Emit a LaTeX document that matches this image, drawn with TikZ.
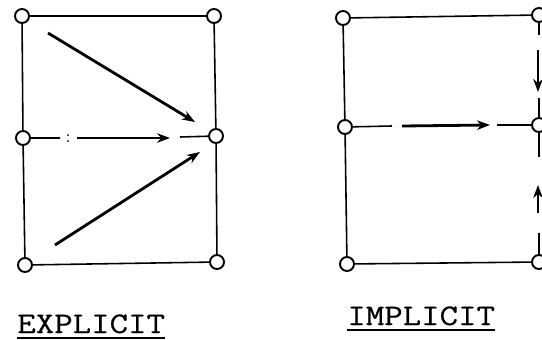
\documentclass[tikz,border=0pt]{standalone}
\usepackage{fontspec}
\newfontfamily\capfont[FakeStretch=1.2, FakeBold=0.6]{Latin Modern Mono}
\usetikzlibrary{arrows.meta, positioning}
\tikzset{
    vertex/.style={
        circle, draw=black, fill=white, line width=1.1pt,
        minimum size=0.28cm, inner sep=0pt
    },
    gridline/.style={
        line width=0.9pt, draw=black
    },
    flow/.style={
        -{Stealth[length=0.26cm, width=0.19cm]}, line width=1.6pt, draw=black
    },
    caption/.style={
        font=\fontsize{17}{20}\selectfont\capfont, inner xsep=0pt, inner ysep=0.09cm, anchor=base west
    },
    uline/.style={
        line width=1.3pt, draw=black
    }
}

\begin{document}
\begin{tikzpicture}[x=0.02cm, y=-0.02cm]
      \useasboundingbox (0,0) rectangle (542,339);

      \node[vertex] (ltl) at (22,16) {};
      \node[vertex] (ltr) at (214,16) {};
      \node[vertex] (lml) at (23,138) {};
      \node[vertex] (lmr) at (216,136) {};
      \node[vertex] (lbl) at (25,265) {};
      \node[vertex] (lbr) at (217,262) {};

      \node[vertex] (rtl) at (343,18) {};
      \node[vertex] (rtr) at (539,15) {};
      \node[vertex] (rml) at (345,127) {};
      \node[vertex] (rmr) at (539,125) {};
      \node[vertex] (rbl) at (347,264) {};
      \node[vertex] (rbr) at (539,262) {};

      \coordinate (ea1) at (48,33);   \coordinate (eb1) at (195,122);
      \coordinate (ea2) at (77,138);  \coordinate (eb2) at (170,138);
      \coordinate (ea3) at (55,245);  \coordinate (eb3) at (200,152);
      \coordinate (em1) at (60,138);  \coordinate (em2) at (180,137);

      \coordinate (ia1) at (402,126); \coordinate (ib1) at (490,125);
      \coordinate (im1) at (392,126); \coordinate (im2) at (497,125);
      \coordinate (ia2) at (538,50);  \coordinate (ib2) at (538,92);
      \coordinate (ia3) at (538,213); \coordinate (ib3) at (538,185);
      \coordinate (iv1) at (539,35);  \coordinate (iv2) at (539,98);
      \coordinate (iv3) at (539,157); \coordinate (iv4) at (539,233);

      \draw[gridline] (ltl) -- (ltr) (ltr) -- (lmr) (lmr) -- (lbr) (lbr) -- (lbl) (lbl) -- (lml) (lml) -- (ltl);
      \draw[gridline] (lml) -- (em1) (em2) -- (lmr);
      \fill (68,135) circle (1) (68,141) circle (1);

      \draw[flow] (ea1) -- (eb1);
      \draw[flow] (ea2) -- (eb2);
      \draw[flow] (ea3) -- (eb3);

      \draw[gridline] (rtl) -- (rtr) (rtl) -- (rml) (rml) -- (rbl) (rbl) -- (rbr);
      \draw[gridline] (rml) -- (im1) (im2) -- (rmr);
      \draw[gridline] (rtr) -- (iv1) (iv2) -- (rmr) (rmr) -- (iv3) (iv4) -- (rbr);

      \draw[flow] (ia1) -- (ib1);
      \draw[flow] (ia2) -- (ib2);
      \draw[flow] (ia3) -- (ib3);

      \node[caption] (explicit) at (17,333) {EXPLICIT};
      \node[caption] (implicit) at (347,325) {IMPLICIT};

      \draw[uline] (explicit.south west) -- (explicit.south east);
      \draw[uline] (implicit.south west) -- (implicit.south east);
    \end{tikzpicture}
\end{document}
